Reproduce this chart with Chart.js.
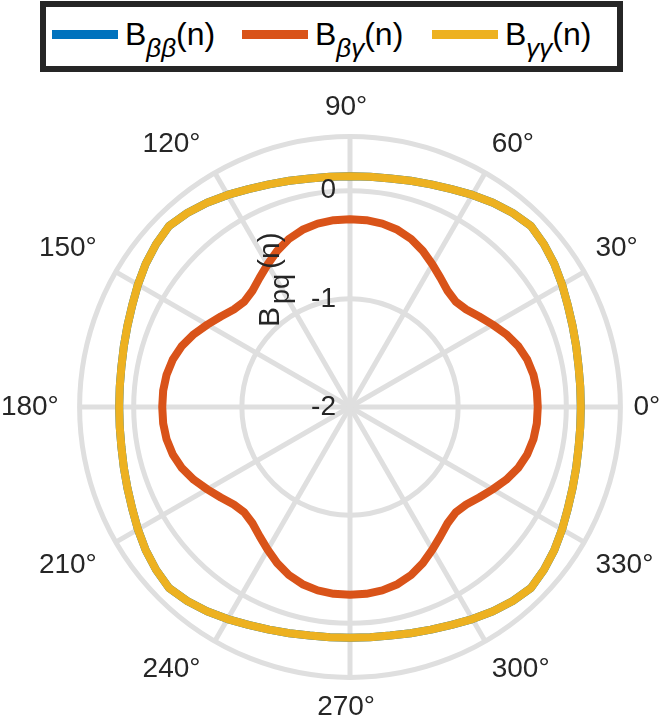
<!DOCTYPE html>
<html>
<head>
<meta charset="utf-8">
<script src="https://cdn.jsdelivr.net/npm/chart.js@4/dist/chart.umd.min.js"></script>
<style>
  body { margin: 0; background: #fff; }
  #wrap { position: relative; width: 664px; height: 717px; overflow: hidden; font-family: "Liberation Sans", Arial, sans-serif; }
  #polar { position: absolute; left: -20px; top: 0; }
  #legend { position: absolute; left: 40px; top: 1px; width: 583px; height: 71px; box-sizing: border-box;
            border: 6px solid #262626; background: #fff; z-index: 2; }
  .item { position: absolute; top: 0; height: 55px; display: flex; align-items: center; }
  .swatch { width: 66px; height: 9px; margin-right: 7px; }
  .txt { font-size: 32px; color: #000; white-space: nowrap; }
  .txt sub { font-size: 26px; font-style: italic; vertical-align: -12px; line-height: 0; }
</style>
</head>
<body>
<div id="wrap">
  <div id="legend"></div>
  <canvas id="polar" width="710" height="725"></canvas>
</div>
<script>
// angles (deg, counter clockwise from 0 at the right)
const thetaDeg = [0,5,10,15,20,25,30,35,40,45,50,55,60,65,70,75,80,85,
                  90,95,100,105,110,115,120,125,130,135,140,145,150,155,160,165,170,175,
                  180,185,190,195,200,205,210,215,220,225,230,235,240,245,250,255,260,265,
                  270,275,280,285,290,295,300,305,310,315,320,325,330,335,340,345,350,355];

// B_bb(n) - sits under the yellow one
const bBetaBeta = [0.134,0.137,0.146,0.165,0.190,0.222,0.264,0.306,0.341,0.366,0.341,0.306,0.264,0.222,0.190,0.165,0.146,0.137,
                   0.134,0.137,0.146,0.165,0.190,0.222,0.264,0.306,0.341,0.366,0.341,0.306,0.264,0.222,0.190,0.165,0.146,0.137,
                   0.134,0.137,0.146,0.165,0.190,0.222,0.264,0.306,0.341,0.366,0.341,0.306,0.264,0.222,0.190,0.165,0.146,0.137,
                   0.134,0.137,0.146,0.165,0.190,0.222,0.264,0.306,0.341,0.366,0.341,0.306,0.264,0.222,0.190,0.165,0.146,0.137];

const bBetaGamma = [-0.264,-0.266,-0.278,-0.304,-0.347,-0.407,-0.477,-0.542,-0.597,-0.620,-0.597,-0.542,-0.477,-0.407,-0.347,-0.304,-0.278,-0.266,
                    -0.264,-0.266,-0.278,-0.304,-0.347,-0.407,-0.477,-0.542,-0.597,-0.620,-0.597,-0.542,-0.477,-0.407,-0.347,-0.304,-0.278,-0.266,
                    -0.264,-0.266,-0.278,-0.304,-0.347,-0.407,-0.477,-0.542,-0.597,-0.620,-0.597,-0.542,-0.477,-0.407,-0.347,-0.304,-0.278,-0.266,
                    -0.264,-0.266,-0.278,-0.304,-0.347,-0.407,-0.477,-0.542,-0.597,-0.620,-0.597,-0.542,-0.477,-0.407,-0.347,-0.304,-0.278,-0.266];

const bGammaGamma = [0.134,0.137,0.146,0.165,0.190,0.222,0.264,0.306,0.341,0.366,0.341,0.306,0.264,0.222,0.190,0.165,0.146,0.137,
                     0.134,0.137,0.146,0.165,0.190,0.222,0.264,0.306,0.341,0.366,0.341,0.306,0.264,0.222,0.190,0.165,0.146,0.137,
                     0.134,0.137,0.146,0.165,0.190,0.222,0.264,0.306,0.341,0.366,0.341,0.306,0.264,0.222,0.190,0.165,0.146,0.137,
                     0.134,0.137,0.146,0.165,0.190,0.222,0.264,0.306,0.341,0.366,0.341,0.306,0.264,0.222,0.190,0.165,0.146,0.137];

const seriesSubs = ["ββ", "βγ", "γγ"];
const seriesColors = ["#0072BD", "#D95319", "#EDB120"];
const seriesData = [bBetaBeta, bBetaGamma, bGammaGamma];

// radial axis
const rGridVals = [-2, -1, 0, 0.5];
const rTickLabels = ["-2", "-1", "0", ""];
const gridColor = "#dfdfdf";

// html legend (needs subscripts)
const legendEl = document.getElementById("legend");
seriesSubs.forEach((sub, i) => {
    const item = document.createElement("div");
    item.className = "item";
    item.style.left = (6 + 190 * i) + "px";
    item.innerHTML = '<div class="swatch" style="background:' + seriesColors[i] + '"></div>' +
                     '<span class="txt">B<sub>' + sub + '</sub>(n)</span>';
    legendEl.appendChild(item);
});

// radar goes clockwise from the top, so reorder from 90 deg downwards
const order = thetaDeg.map((t, i) => (((90 - 5 * i) % 360) + 360) % 360 / 5);
const labels = order.map(k => thetaDeg[k]);

// r tick labels + the rotated axis title
const rAxisText = {
    id: "rAxisText",
    afterDatasetsDraw(chart) {
        const ctx = chart.ctx;
        const r = chart.scales.r;
        ctx.save();
        ctx.fillStyle = "#262626";
        ctx.font = '28px "Liberation Sans"';
        ctx.textAlign = "right";
        ctx.textBaseline = "middle";
        rGridVals.forEach((v, i) => {
            const y = r.yCenter - r.getDistanceFromCenterForValue(v);
            ctx.fillText(rTickLabels[i], r.xCenter - 14, y);
        });

        ctx.translate(r.xCenter - 71, r.yCenter - 80);
        ctx.rotate(-Math.PI / 2);
        ctx.textAlign = "left";
        ctx.textBaseline = "alphabetic";
        let x = 0;
        ctx.font = '30px "Liberation Sans"';
        ctx.fillText("B", x, 0);
        x += ctx.measureText("B").width + 3;
        ctx.font = '27px "Liberation Sans"';
        ctx.fillText("pq", x, 10);
        x += ctx.measureText("pq").width + 5;
        ctx.font = '30px "Liberation Sans"';
        ctx.fillText("(n)", x, 0);
        ctx.restore();
    }
};

new Chart("polar", {
    type: "radar",
    data: {
        labels: labels,
        datasets: seriesData.map((d, i) => ({
            label: "B" + seriesSubs[i] + "(n)",
            data: order.map(k => d[k]),
            borderColor: seriesColors[i],
            backgroundColor: seriesColors[i],
            borderWidth: 8,
            borderJoinStyle: "round",
            pointRadius: 0,
            pointHoverRadius: 0,
            fill: false,
            tension: 0,
            order: 2 - i
        }))
    },
    options: {
        responsive: false,
        devicePixelRatio: 1,
        animation: false,
        layout: { padding: { top: 91, left: 5, right: 5, bottom: 0 } },
        plugins: {
            legend: { display: false },
            tooltip: { enabled: false }
        },
        scales: {
            r: {
                min: -2,
                max: 0.5,
                startAngle: 0,
                afterBuildTicks: (scale) => {
                    scale.ticks = rGridVals.map(v => ({ value: v }));
                },
                ticks: { display: false },
                grid: { circular: true, color: gridColor, lineWidth: 5 },
                angleLines: {
                    display: true,
                    lineWidth: 5,
                    color: (c) => (c.index % 6 === 0 ? gridColor : "rgba(0,0,0,0)")
                },
                pointLabels: {
                    display: true,
                    padding: 13,
                    color: "#262626",
                    font: { family: "Liberation Sans", size: 28 },
                    // trailing space like the original's label boxes
                    callback: (v) => (v % 30 === 0 ? v + "° " : "")
                }
            }
        }
    },
    plugins: [rAxisText]
});
</script>
</body>
</html>
